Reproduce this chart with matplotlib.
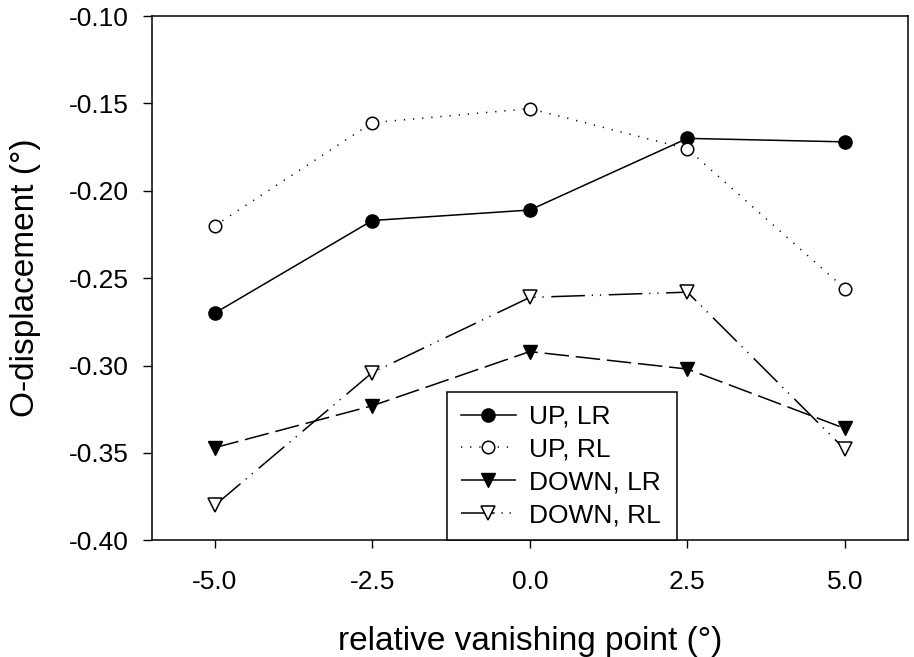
import matplotlib
matplotlib.use('Agg')
import matplotlib.pyplot as plt

plt.rcParams['font.family'] = ['Liberation Sans', 'DejaVu Sans']

# data
x = [-5.0, -2.5, 0.0, 2.5, 5.0]
up_lr = [-0.270, -0.217, -0.211, -0.170, -0.172]
up_rl = [-0.220, -0.161, -0.153, -0.176, -0.256]
down_lr = [-0.347, -0.323, -0.292, -0.302, -0.336]
down_rl = [-0.380, -0.304, -0.261, -0.258, -0.348]

xticks = [-5.0, -2.5, 0.0, 2.5, 5.0]
yticks = [-0.40, -0.35, -0.30, -0.25, -0.20, -0.15, -0.10]

fig = plt.figure(figsize=(9.14, 6.57), dpi=100)
ax = fig.add_axes([0.166, 0.1776, 0.8274, 0.798])

lw = 1.1
ax.plot(x, up_lr, color='black', lw=lw, linestyle='-', marker='o', ms=9.5,
        mfc='black', mec='black', label='UP, LR')
ax.plot(x, up_rl, color='black', lw=lw, linestyle=(0, (0.8, 5.2)), marker='o', ms=9,
        mfc='white', mec='black', mew=1.1, label='UP, RL')
ax.plot(x, down_lr, color='black', lw=lw, linestyle=(0, (16, 4.5)), marker='v', ms=10,
        mfc='black', mec='black', label='DOWN, LR')
ax.plot(x, down_rl, color='black', lw=lw, linestyle=(0, (22, 4.5, 0.8, 4.5, 0.8, 5)),
        marker='v', ms=10, mfc='white', mec='black', mew=1.1, label='DOWN, RL')

ax.set_xlim(-6, 6)
ax.set_ylim(-0.40, -0.10)
ax.set_xticks(xticks)
ax.set_xticklabels(['%.1f' % v for v in xticks])
ax.set_yticks(yticks)
ax.set_yticklabels(['%.2f' % v for v in yticks])
ax.tick_params(direction='out', width=1, labelsize=19)
ax.tick_params(axis='y', length=6.5, pad=10)
ax.tick_params(axis='x', length=5.5, pad=16)
for s in ax.spines.values():
    s.set_linewidth(1.1)

ax.set_xlabel('relative vanishing point (°)', fontsize=24)
ax.set_ylabel('O-displacement (°)', fontsize=24)
ax.xaxis.set_label_coords(0.5, -0.163)
ax.yaxis.set_label_coords(-0.146, 0.5)

leg = ax.legend(loc='lower left', bbox_to_anchor=(0.391, 0.0, 0.304, 0.288),
                mode='expand', fontsize=19, numpoints=1, handlelength=2.1,
                fancybox=False, framealpha=1, edgecolor='black',
                borderaxespad=0, labelspacing=0.33, handletextpad=0.5,
                borderpad=0.5)
leg.get_frame().set_linewidth(1.1)

fig.savefig('out.png', dpi=100)
